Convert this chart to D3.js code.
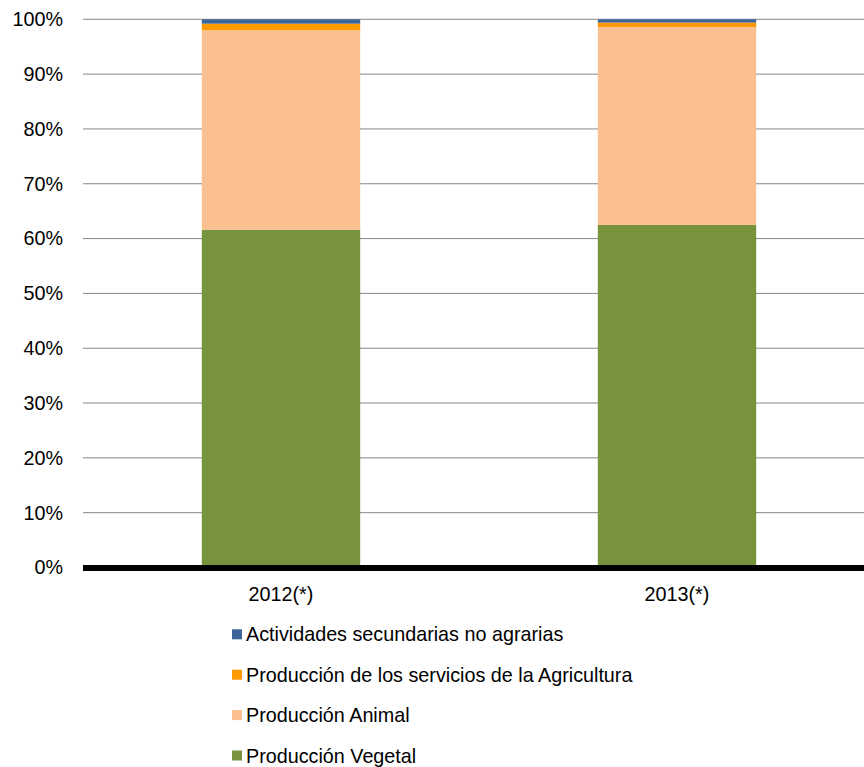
<!DOCTYPE html>
<html>
<head>
<meta charset="utf-8">
<script src="https://cdn.jsdelivr.net/npm/d3@7"></script>
<style>
  html, body { margin: 0; padding: 0; background: #fff; }
  svg { display: block; }
  text { font-family: "Liberation Sans", Arial, sans-serif; fill: #000; }
</style>
</head>
<body>
<svg id="chart" width="864" height="767"></svg>
<script>
// Data
const categories = ["2012(*)", "2013(*)"];
const seriesNames = [
  "Producción Vegetal",
  "Producción Animal",
  "Producción de los servicios de la Agricultura",
  "Actividades secundarias no agrarias"
];
const vegetal = [61.6, 62.5];
const animal = [36.4, 36.1];
const servicios = [1.2, 0.8];
const secundarias = [0.8, 0.6];
const tickValues = [0, 10, 20, 30, 40, 50, 60, 70, 80, 90, 100];
const colors = ["#77933C", "#FAC090", "#FF9900", "#3D6597"];

const seriesValues = [vegetal, animal, servicios, secundarias];
const rows = categories.map((c, i) => {
  const r = { cat: c };
  seriesNames.forEach((s, j) => r[s] = seriesValues[j][i]);
  return r;
});

const svg = d3.select("#chart");
const plotLeft = 83, plotRight = 875, plotTop = 19.3, plotBottom = 567.5;
const fontSize = "19.75px";

const x = d3.scaleBand().domain(categories).range([plotLeft, plotRight])
  .paddingInner(0.6).paddingOuter(0.3);
const y = d3.scaleLinear().domain([0, 100]).range([plotBottom, plotTop]);

// gridlines
svg.append("g").selectAll("line").data(tickValues.filter(d => d > 0)).join("line")
  .attr("x1", plotLeft).attr("x2", 864)
  .attr("y1", d => y(d)).attr("y2", d => y(d))
  .attr("stroke", "#868686").attr("stroke-width", 1);

// stacked bars
const stack = d3.stack().keys(seriesNames);
const stacked = stack(rows);
svg.append("g").selectAll("g").data(stacked).join("g")
  .attr("fill", (d, i) => colors[i])
  .selectAll("rect").data(d => d).join("rect")
  .attr("x", d => x(d.data.cat))
  .attr("width", x.bandwidth())
  .attr("y", d => y(d[1]))
  .attr("height", d => y(d[0]) - y(d[1]));

// y axis labels
const yAxis = d3.axisLeft(y).tickValues(tickValues).tickFormat(d => d + "%").tickSize(0).tickPadding(20);
const ya = svg.append("g").attr("transform", `translate(${plotLeft},0)`).call(yAxis);
ya.select(".domain").remove();
ya.selectAll("text").style("font-size", fontSize).style("font-family", '"Liberation Sans", Arial, sans-serif').attr("fill", "#000");

// x axis
const xAxis = d3.axisBottom(x).tickSize(0).tickPadding(19);
const xa = svg.append("g").attr("transform", `translate(0,${plotBottom})`).call(xAxis);
xa.select(".domain").remove();
xa.selectAll("text").style("font-size", fontSize).style("font-family", '"Liberation Sans", Arial, sans-serif').attr("fill", "#000");
svg.append("line").attr("x1", plotLeft).attr("x2", 864).attr("y1", plotBottom + 0.5).attr("y2", plotBottom + 0.5)
  .attr("stroke", "#000").attr("stroke-width", 6);

// legend
const legendOrder = [3, 2, 1, 0];
const lg = svg.append("g");
legendOrder.forEach((si, k) => {
  const cy = 634.3 + k * 40.4;
  lg.append("rect").attr("x", 232).attr("y", cy - 5).attr("width", 10).attr("height", 10).attr("fill", colors[si]);
  lg.append("text").attr("x", 246).attr("y", cy).attr("dy", "0.36em")
    .style("font-size", fontSize).text(seriesNames[si]);
});
</script>
</body>
</html>
